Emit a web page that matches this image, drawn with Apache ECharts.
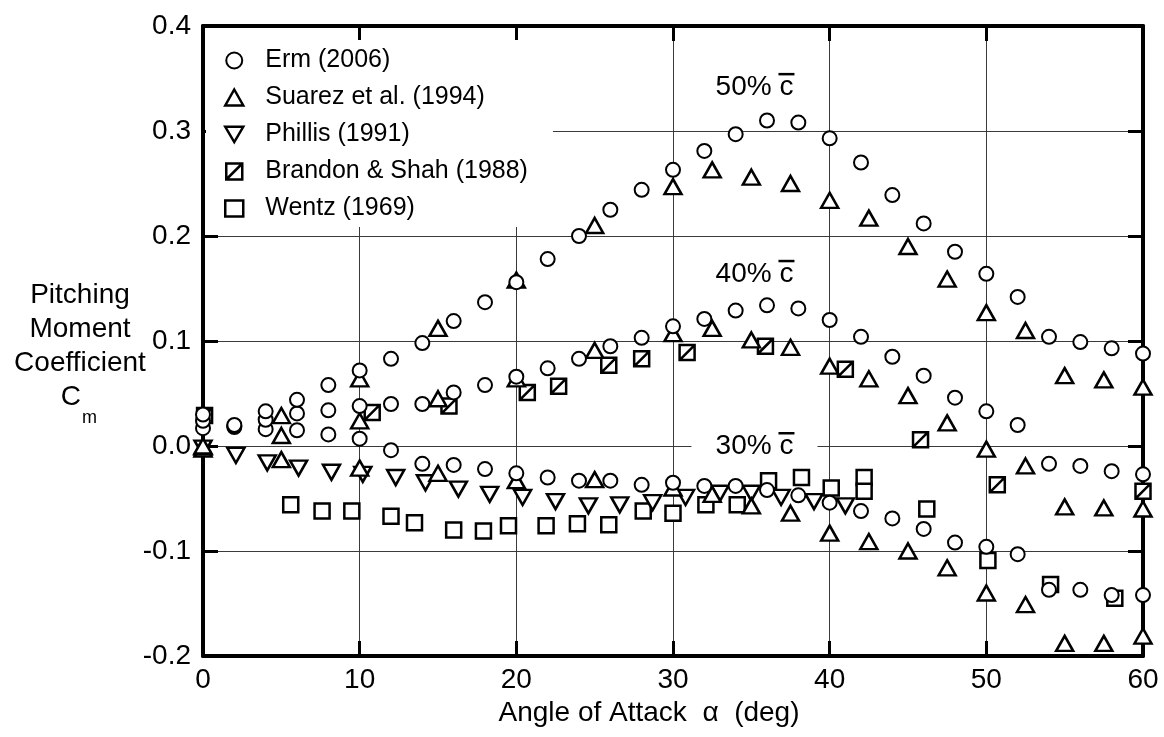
<!DOCTYPE html>
<html>
<head>
<meta charset="utf-8">
<script src="https://cdn.jsdelivr.net/npm/echarts@6/dist/echarts.min.js"></script>
<style>
  html, body { margin: 0; padding: 0; background: #fff; }
  #chart { width: 1164px; height: 737px; }
</style>
</head>
<body>
<div id="chart"></div>
<script>
(function() {
  'use strict';

  var FONT = 'Liberation Sans, Arial, Helvetica, sans-serif';

  // Erm (2006), three moment reference points, alpha = 0..60 step 2
  var ermX = [0, 2, 4, 6, 8, 10, 12, 14, 16, 18, 20, 22, 24, 26, 28, 30, 32, 34, 36, 38, 40, 42, 44, 46, 48, 50, 52, 54, 56, 58, 60];
  var erm50 = [0.030, 0.020, 0.033, 0.044, 0.058, 0.072, 0.083, 0.098, 0.119, 0.137, 0.156, 0.178, 0.200, 0.225, 0.244, 0.263,
    0.281, 0.297, 0.310, 0.308, 0.293, 0.270, 0.239, 0.212, 0.185, 0.164, 0.142, 0.104, 0.099, 0.093, 0.088];
  var erm40 = [0.024, 0.019, 0.025, 0.031, 0.034, 0.038, 0.040, 0.040, 0.051, 0.058, 0.066, 0.074, 0.083, 0.095, 0.103, 0.114,
    0.121, 0.129, 0.134, 0.131, 0.120, 0.104, 0.085, 0.067, 0.046, 0.033, 0.020, -0.017, -0.019, -0.024, -0.027];
  var erm30 = [0.017, 0.018, 0.016, 0.015, 0.011, 0.007, -0.004, -0.017, -0.018, -0.022, -0.026, -0.030, -0.033, -0.033, -0.037, -0.035,
    -0.038, -0.038, -0.042, -0.047, -0.054, -0.062, -0.069, -0.079, -0.092, -0.096, -0.103, -0.137, -0.137, -0.142, -0.142];

  // Suarez et al. (1994)
  var suarezX = [0, 5, 10, 15, 20, 25, 30, 32.5, 35, 37.5, 40, 42.5, 45, 47.5, 50, 52.5, 55, 57.5, 60];
  var suarez50 = [0.000, 0.029, 0.064, 0.112, 0.158, 0.210, 0.247, 0.263, 0.256, 0.250, 0.234, 0.217, 0.190, 0.159, 0.127, 0.110, 0.067, 0.063, 0.056];
  var suarez40 = [-0.001, 0.010, 0.024, 0.045, 0.064, 0.091, 0.107, 0.112, 0.101, 0.094, 0.076, 0.064, 0.048, 0.022, -0.003, -0.019, -0.058, -0.059, -0.060];
  var suarez30 = [-0.003, -0.013, -0.021, -0.026, -0.033, -0.032, -0.040, -0.046, -0.057, -0.064, -0.083, -0.091, -0.100, -0.116, -0.140, -0.151, -0.188, -0.188, -0.181];

  // Phillis (1991)
  var phillisX = [0, 2.1, 4.1, 6.1, 8.2, 10.2, 12.3, 14.2, 16.3, 18.3, 20.4, 22.5, 24.6, 26.6, 28.7, 30.8, 33.0, 35.0, 36.9, 39.0, 41.0];
  var phillisY = [-0.002, -0.009, -0.016, -0.021, -0.025, -0.027, -0.030, -0.035, -0.041, -0.046, -0.049, -0.053, -0.057, -0.056, -0.054, -0.049,
    -0.045, -0.045, -0.049, -0.053, -0.057];

  // Brandon & Shah (1988)
  var brandonX = [0.1, 10.8, 15.7, 20.7, 22.7, 25.9, 28.0, 30.9, 35.9, 41.0, 45.8, 50.7, 60.0];
  var brandonY = [0.029, 0.032, 0.038, 0.051, 0.057, 0.077, 0.083, 0.089, 0.095, 0.073, 0.006, -0.037, -0.043];

  // Wentz (1969)
  var wentzX = [5.6, 7.6, 9.5, 12.0, 13.5, 16.0, 17.9, 19.5, 21.9, 23.9, 25.9, 28.1, 30.0, 32.1, 34.1, 36.1, 38.2, 40.1, 42.2, 42.2, 46.2, 50.1, 54.1, 58.2];
  var wentzY = [-0.056, -0.062, -0.062, -0.067, -0.073, -0.080, -0.081, -0.076, -0.076, -0.074, -0.075, -0.062, -0.064, -0.056, -0.056, -0.033,
    -0.030, -0.040, -0.030, -0.043, -0.060, -0.109, -0.132, -0.145];

  // annotations
  var noteText = ['50% c', '40% c', '30% c'];
  var noteX = [35.2, 35.2, 35.2];
  var noteY = [0.342, 0.164, 0.0];
  var noteMask = [false, false, true];

  var xTicks = { min: 0, max: 60, interval: 10 };
  var yTicks = { min: -0.2, max: 0.4, interval: 0.1 };

  var SYM_DOWN = 'path://M0,0L20,0L10,17Z';
  var SYM_DIAG = 'path://M0,0L10,0L10,10L0,10Z M0,10L10,0';

  var zip = function(xs, ys) {
    return xs.map(function(x, i) { return [x, ys[i]]; });
  };

  var openStyle = function(w) {
    return { color: '#fff', borderColor: '#000', borderWidth: w, opacity: 1 };
  };

  var scatter = function(name, symbol, size, bw, data) {
    return {
      name: name,
      type: 'scatter',
      symbol: symbol,
      symbolSize: size,
      itemStyle: openStyle(bw),
      emphasis: { disabled: true },
      data: data
    };
  };

  var axisLineStyle = { show: true, onZero: false, lineStyle: { color: '#000', width: 4 } };
  var tickStyle = { show: true, inside: true, length: 15, lineStyle: { color: '#000', width: 3 } };
  var gridLine = { show: true, lineStyle: { color: '#3a3a3a', width: 1 } };

  var myChart = echarts.init(document.getElementById('chart'));
  var option = {
    backgroundColor: '#fff',
    animation: false,
    textStyle: { fontFamily: FONT, color: '#000' },
    grid: { left: 203, right: 21, top: 26, bottom: 81, containLabel: false },
    legend: {
      orient: 'vertical',
      left: 206,
      top: 40,
      padding: [8, 25, 6, 18],
      backgroundColor: '#fff',
      itemWidth: 18,
      itemHeight: 16,
      itemGap: 12,
      selectedMode: false,
      textStyle: { fontFamily: FONT, fontSize: 25, color: '#000', padding: [0, 0, 0, 17] },
      data: [
        { name: 'Erm (2006)', icon: 'circle', itemStyle: openStyle(2) },
        { name: 'Suarez et al. (1994)', icon: 'triangle', itemStyle: openStyle(2.5) },
        { name: 'Phillis (1991)', icon: SYM_DOWN, itemStyle: openStyle(2.5) },
        { name: 'Brandon & Shah (1988)', icon: SYM_DIAG, itemStyle: openStyle(2.5) },
        { name: 'Wentz (1969)', icon: 'rect', itemStyle: openStyle(2.5) }
      ]
    },
    xAxis: [{
      type: 'value',
      position: 'bottom',
      min: xTicks.min,
      max: xTicks.max,
      interval: xTicks.interval,
      name: 'Angle of Attack  \u03b1  (deg)',
      nameLocation: 'middle',
      nameGap: 42,
      nameTextStyle: { fontFamily: FONT, fontSize: 28, color: '#000', padding: [0, 48, 0, 0] },
      axisLine: axisLineStyle,
      axisTick: tickStyle,
      axisLabel: { fontFamily: FONT, fontSize: 28, color: '#000', margin: 10 },
      splitLine: gridLine
    }, {
      type: 'value',
      position: 'top',
      min: xTicks.min,
      max: xTicks.max,
      interval: xTicks.interval,
      axisLine: axisLineStyle,
      axisTick: tickStyle,
      axisLabel: { show: false },
      splitLine: { show: false }
    }],
    yAxis: [{
      type: 'value',
      position: 'left',
      min: yTicks.min,
      max: yTicks.max,
      interval: yTicks.interval,
      axisLine: axisLineStyle,
      axisTick: tickStyle,
      axisLabel: {
        fontFamily: FONT, fontSize: 28, color: '#000', margin: 12,
        formatter: function(v) { return v.toFixed(1); }
      },
      splitLine: gridLine
    }, {
      type: 'value',
      position: 'right',
      min: yTicks.min,
      max: yTicks.max,
      interval: yTicks.interval,
      axisLine: axisLineStyle,
      axisTick: tickStyle,
      axisLabel: { show: false },
      splitLine: { show: false }
    }],
    graphic: [{
      type: 'text',
      x: 80,
      y: 278,
      style: {
        text: 'Pitching\nMoment\nCoefficient',
        font: '28px ' + FONT,
        fill: '#000',
        align: 'center',
        verticalAlign: 'top',
        lineHeight: 34
      }
    }, {
      type: 'text',
      x: 81,
      y: 397,
      style: { text: 'C', font: '28px ' + FONT, fill: '#000', align: 'right', verticalAlign: 'middle' }
    }, {
      type: 'text',
      x: 82,
      y: 418,
      style: { text: 'm', font: '18px ' + FONT, fill: '#000', align: 'left', verticalAlign: 'middle' }
    }],
    series: [
      scatter('Wentz (1969)', 'rect', 15, 2.5, zip(wentzX, wentzY)),
      scatter('Brandon & Shah (1988)', SYM_DIAG, 15, 2.5, zip(brandonX, brandonY)),
      scatter('Phillis (1991)', SYM_DOWN, [17, 15], 2.5, zip(phillisX, phillisY)),
      scatter('Suarez et al. (1994)', 'triangle', [17, 15], 2.5, zip(suarezX, suarez30)),
      scatter('Suarez et al. (1994)', 'triangle', [17, 15], 2.5, zip(suarezX, suarez40)),
      scatter('Suarez et al. (1994)', 'triangle', [17, 15], 2.5, zip(suarezX, suarez50)),
      scatter('Erm (2006)', 'circle', 14, 2, zip(ermX, erm30)),
      scatter('Erm (2006)', 'circle', 14, 2, zip(ermX, erm40)),
      scatter('Erm (2006)', 'circle', 14, 2, zip(ermX, erm50)),
      {
        name: 'notes',
        type: 'custom',
        silent: true,
        data: zip(noteX, noteY),
        renderItem: function(params, api) {
          var p = api.coord([api.value(0), api.value(1)]);
          var i = params.dataIndex;
          var kids = [];
          if (noteMask[i]) {
            kids.push({ type: 'rect', shape: { x: p[0] - 63, y: p[1] - 16, width: 126, height: 32 }, style: { fill: '#fff' } });
          }
          kids.push({
            type: 'text', x: p[0], y: p[1],
            style: { text: noteText[i], font: '28px ' + FONT, fill: '#000', align: 'center', verticalAlign: 'middle' }
          });
          // bar over the trailing c
          kids.push({ type: 'rect', shape: { x: p[0] + 24, y: p[1] - 14, width: 16, height: 2.5 }, style: { fill: '#000' } });
          return { type: 'group', children: kids };
        }
      }
    ]
  };
  myChart.setOption(option);
})();
</script>
</body>
</html>
